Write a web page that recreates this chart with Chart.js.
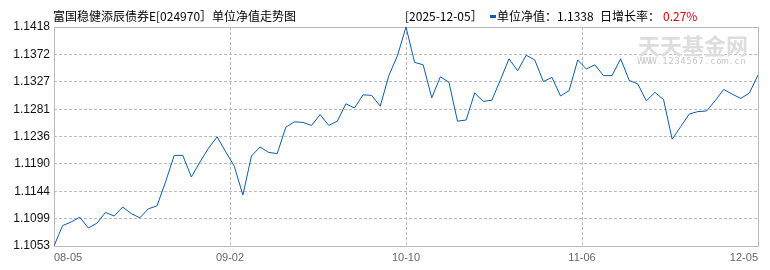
<!DOCTYPE html>
<html>
<head>
<meta charset="utf-8">
<script src="https://cdn.jsdelivr.net/npm/chart.js@4.4.1/dist/chart.umd.min.js"></script>
<style>
  html, body { margin: 0; padding: 0; background: #fff; }
  #wrap { width: 770px; height: 270px; }
</style>
</head>
<body>
<div id="wrap"><canvas id="navChart" width="770" height="270"></canvas></div>
<script>
// 单位净值 (daily, 08-05 .. 12-05)
const navValues = [
  1.1053, 1.1087, 1.1093, 1.1101, 1.1083, 1.1091, 1.1109, 1.1103, 1.1118, 1.1107,
  1.1100, 1.1115, 1.1120, 1.1160, 1.1204, 1.1204, 1.1168, 1.1193, 1.1216, 1.1235,
  1.1210, 1.1186, 1.1138, 1.1203, 1.1218, 1.1209, 1.1207, 1.1251, 1.1260, 1.1259,
  1.1254, 1.1272, 1.1254, 1.1261, 1.1290, 1.1283, 1.1305, 1.1304, 1.1286, 1.1337,
  1.1370, 1.1418, 1.1359, 1.1355, 1.1300, 1.1335, 1.1326, 1.1261, 1.1263, 1.1308,
  1.1294, 1.1296, 1.1330, 1.1365, 1.1345, 1.1371, 1.1363, 1.1327, 1.1334, 1.1303,
  1.1312, 1.1363, 1.1348, 1.1355, 1.1337, 1.1337, 1.1365, 1.1329, 1.1323, 1.1295,
  1.1309, 1.1297, 1.1231, 1.1252, 1.1273, 1.1277, 1.1278, 1.1295, 1.1314, 1.1306,
  1.1299, 1.1308, 1.1338
];
const xTickLabels = ['08-05', '09-02', '10-10', '11-06', '12-05'];
const yTickValues = [1.1053, 1.1099, 1.1144, 1.1190, 1.1236, 1.1281, 1.1327, 1.1372, 1.1418];

const fundTitle = '富国稳健添辰债券E[024970］单位净值走势图';
const latestDate = '[2025-12-05］';
const latestNavText = '单位净值：1.1338';
const growthLabel = '日增长率：';
const growthValue = '0.27%';

const gridColor = '#bbbbbb';
const lineColor = '#0b5cad';
const cjkFont = '"Noto Sans CJK SC", sans-serif';

const frameAndMarks = {
  id: 'frameAndMarks',
  beforeDatasetsDraw(chart) {
    const { ctx, chartArea: a } = chart;
    ctx.save();
    // watermark
    ctx.fillStyle = '#dddddd';
    ctx.font = 'bold 22px ' + cjkFont;
    ctx.textBaseline = 'middle';
    ctx.textAlign = 'left';
    ctx.fillText('天天基金网', 638, 46);
    ctx.fillStyle = '#c4c4c4';
    ctx.font = '8px "DejaVu Sans", sans-serif';
    ctx.textAlign = 'center';
    const url = 'WWW.1234567.com.cn';
    for (let i = 0; i < url.length; i++) {
      ctx.fillText(url[i], 641 + i * 6, 62);
    }
    // solid frame
    ctx.strokeStyle = gridColor;
    ctx.lineWidth = 1;
    ctx.setLineDash([]);
    ctx.strokeRect(Math.round(a.left) + 0.5, Math.round(a.top) + 0.5,
      Math.round(a.right - a.left), Math.round(a.bottom - a.top));
    ctx.restore();
  },
  afterDraw(chart) {
    const { ctx } = chart;
    ctx.save();
    ctx.textBaseline = 'middle';
    ctx.textAlign = 'left';
    ctx.font = '12px ' + cjkFont;
    ctx.fillStyle = '#000';
    ctx.fillText(fundTitle, 53, 16);
    ctx.fillText(latestDate, 405, 16);
    ctx.fillStyle = lineColor;
    ctx.fillRect(490, 15, 6, 3);
    ctx.fillStyle = '#000';
    ctx.fillText(latestNavText, 497, 16);
    ctx.fillText(growthLabel, 600, 16);
    ctx.fillStyle = '#e00000';
    ctx.fillText(growthValue, 663, 16);
    ctx.restore();
  }
};

const lastIdx = navValues.length - 1;

new Chart(document.getElementById('navChart'), {
  type: 'line',
  data: {
    datasets: [{
      data: navValues.map((v, i) => ({ x: i, y: v })),
      borderColor: lineColor,
      borderWidth: 1,
      pointRadius: 0,
      tension: 0,
      fill: false
    }]
  },
  options: {
    responsive: false,
    animation: false,
    events: [],
    layout: { autoPadding: false, padding: { top: 27, right: 12, left: 0, bottom: 0 } },
    plugins: { legend: { display: false }, tooltip: { enabled: false } },
    scales: {
      x: {
        type: 'linear',
        min: 0,
        max: lastIdx,
        afterBuildTicks(scale) {
          scale.ticks = xTickLabels.map((_, i) => ({ value: i * lastIdx / (xTickLabels.length - 1) }));
        },
        afterFit(scale) {
          scale.height = 24;
          scale.paddingLeft = 0;
          scale.paddingRight = 0;
        },
        grid: { color: gridColor, lineWidth: 1, drawTicks: false },
        border: { display: false, dash: [3, 2] },
        ticks: {
          autoSkip: false,
          maxRotation: 0,
          align: 'inner',
          padding: 5,
          color: '#666',
          font: { family: '"Liberation Sans", sans-serif', size: 11 },
          callback: (v, i) => xTickLabels[i]
        }
      },
      y: {
        min: yTickValues[0],
        max: yTickValues[yTickValues.length - 1],
        afterBuildTicks(scale) {
          scale.ticks = yTickValues.map(v => ({ value: v }));
        },
        afterFit(scale) {
          scale.width = 54;
          scale.paddingTop = 0;
          scale.paddingBottom = 0;
        },
        grid: { color: gridColor, lineWidth: 1, drawTicks: false },
        border: { display: false, dash: [3, 2] },
        ticks: {
          padding: 4,
          color: '#111',
          font: { family: '"Liberation Sans", sans-serif', size: 12 },
          callback: (v, i) => yTickValues[i].toFixed(4)
        }
      }
    }
  },
  plugins: [frameAndMarks]
});
</script>
</body>
</html>
